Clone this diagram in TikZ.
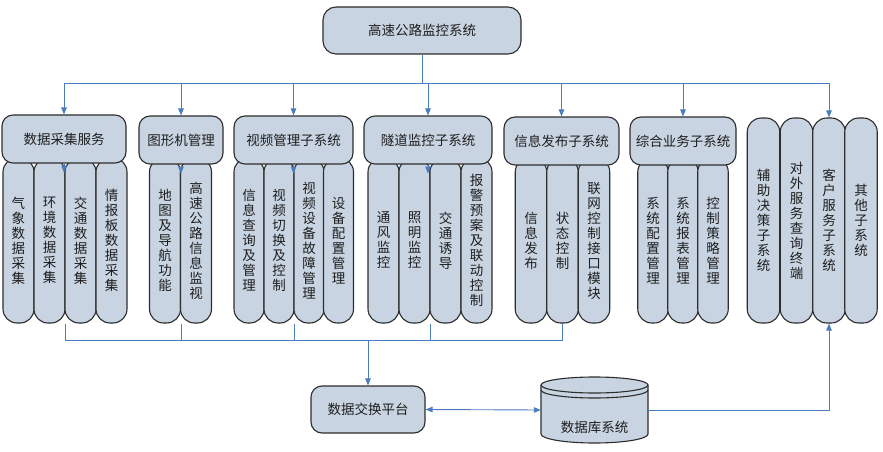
\documentclass[tikz,border=0pt]{standalone}
\usepackage{fontspec}
\setmainfont{Noto Sans CJK SC}
\usepackage{tikz}
\usetikzlibrary{arrows.meta}
\definecolor{boxfill}{RGB}{200,212,226}
\definecolor{boxline}{RGB}{45,45,45}
\definecolor{linkblue}{RGB}{74,124,190}
\definecolor{txt}{RGB}{30,30,30}

\begin{document}
\begin{tikzpicture}[x=1pt, y=-1pt, >={Triangle[length=7pt,width=5.5pt]},
  box/.style={draw=boxline, fill=boxfill, line width=1.1pt, rounded corners=11pt, inner sep=0pt, text=txt, font=\fontsize{13.5}{15}\selectfont},
  col/.style={box, rounded corners=14pt, align=center, minimum height=165pt},
  hdr/.style={box, minimum height=48pt},
  link/.style={draw=linkblue, line width=0.9pt}]

\useasboundingbox (0,0) rectangle (883,452);

\node[col, minimum width=31pt] (g1a) at (18.5,240.5) {气\\象\\数\\据\\采\\集};
\node[col, minimum width=31pt] (g1b) at (49.5,240.5) {环\\境\\数\\据\\采\\集};
\node[col, minimum width=31pt] (g1c) at (80.5,240.5) {交\\通\\数\\据\\采\\集};
\node[col, minimum width=31pt] (g1d) at (111.5,240.5) {情\\报\\板\\数\\据\\采\\集};

\node[col, minimum width=31pt] (g2a) at (165,240.5) {地\\图\\及\\导\\航\\功\\能};
\node[col, minimum width=31pt] (g2b) at (196,240.5) {高\\速\\公\\路\\信\\息\\监\\视};

\node[col, minimum width=30pt] (g3a) at (249,240.5) {信\\息\\查\\询\\及\\管\\理};
\node[col, minimum width=30pt] (g3b) at (279,240.5) {视\\频\\切\\换\\及\\控\\制};
\node[col, minimum width=30pt] (g3c) at (309,240.5) {视\\频\\设\\备\\故\\障\\管\\理};
\node[col, minimum width=30pt] (g3d) at (338.5,240.5) {设\\备\\配\\置\\管\\理};

\node[col, minimum width=31pt] (g4a) at (383.5,240.5) {通\\风\\监\\控};
\node[col, minimum width=31pt] (g4b) at (414.5,240.5) {照\\明\\监\\控};
\node[col, minimum width=31pt] (g4c) at (445.5,240.5) {交\\通\\诱\\导};
\node[col, minimum width=31pt] (g4d) at (476.5,240.5) {报\\警\\预\\案\\及\\联\\动\\控\\制};

\node[col, minimum width=31.5pt] (g5a) at (531,240.5) {信\\息\\发\\布};
\node[col, minimum width=31.5pt] (g5b) at (562.5,240.5) {状\\态\\控\\制};
\node[col, minimum width=31.5pt] (g5c) at (594,240.5) {联\\网\\控\\制\\接\\口\\模\\块};

\node[col, minimum width=30.5pt] (g6a) at (653,240.5) {系\\统\\配\\置\\管\\理};
\node[col, minimum width=30.5pt] (g6b) at (683,240.5) {系\\统\\报\\表\\管\\理};
\node[col, minimum width=30.5pt] (g6c) at (713,240.5) {控\\制\\策\\略\\管\\理};

\node[col, minimum width=32.5pt, minimum height=205pt] (g7a) at (763.5,220.5) {辅\\助\\决\\策\\子\\系\\统};
\node[col, minimum width=32.5pt, minimum height=205pt] (g7b) at (796.5,220.5) {对\\外\\服\\务\\查\\询\\终\\端};
\node[col, minimum width=32.5pt, minimum height=205pt] (g7c) at (829,220.5) {客\\户\\服\\务\\子\\系\\统};
\node[col, minimum width=32.5pt, minimum height=205pt] (g7d) at (861,220.5) {其\\他\\子\\系\\统};

\node[hdr, minimum width=198pt, minimum height=47pt, rounded corners=13pt] (title) at (422,30.5) {高速公路监控系统};
\node[hdr, minimum width=124pt] (h1) at (64,139) {数据采集服务};
\node[hdr, minimum width=84pt] (h2) at (181,140) {图形机管理};
\node[hdr, minimum width=119pt] (h3) at (293.5,140) {视频管理子系统};
\node[hdr, minimum width=128pt] (h4) at (428,140) {隧道监控子系统};
\node[hdr, minimum width=115pt] (h5) at (561.5,141) {信息发布子系统};
\node[hdr, minimum width=106pt] (h6) at (683,141) {综合业务子系统};

\node[hdr, minimum width=114pt, minimum height=47pt] (xchg) at (368,409.5) {数据交换平台};

\filldraw[draw=boxline, fill=boxfill, line width=1.1pt] (541,385) -- (541,434)
  arc[start angle=180, end angle=360, x radius=53.5pt, y radius=9pt] -- (648,385)
  arc[start angle=0, end angle=180, x radius=53.5pt, y radius=8pt] -- cycle;
\draw[draw=boxline, line width=1.1pt] (541,385) arc[start angle=180, end angle=360, x radius=53.5pt, y radius=8pt];
\draw[draw=boxline, line width=1.1pt] (541,390) arc[start angle=180, end angle=360, x radius=53.5pt, y radius=8pt];
\node[minimum width=107pt, minimum height=66pt, inner sep=0pt, label={[text=txt, font=\fontsize{13.5}{15}\selectfont, yshift=-17pt]center:数据库系统}] (db) at (594.5,410) {};

\coordinate (bus) at (422,83);
\coordinate (bus2) at (368,340);

\draw[link] (title.south) -- (bus);
\draw[link,->] (bus) -| (h1.north);
\draw[link,->] (bus) -| (h2.north);
\draw[link,->] (bus) -| (h3.north);
\draw[link,->] (bus) -| (h4.north);
\draw[link,->] (bus) -| (h5.north);
\draw[link,->] (bus) -| (h6.north);
\draw[link,->] (bus) -| (g7c.north);

\draw[link,->] (h1.south) -- ++(0,9);
\draw[link,->] (h2.south) -- ++(0,9);
\draw[link,->] (h3.south) -- ++(0,9);
\draw[link,->] (h4.south) -- ++(0,9);

\draw[link] (g1b.south east) |- (bus2);
\draw[link] (g2a.south east) |- (bus2);
\draw[link] (g3b.south east) |- (bus2);
\draw[link] (g4b.south east) |- (bus2);
\draw[link] (g5b.south) |- (bus2);
\draw[link,->] (bus2) -- (xchg.north);

\draw[link,<->] (xchg.east) -- (db.west);
\draw[link,->] (db.east) -| (g7c.south);

\end{tikzpicture}
\end{document}
